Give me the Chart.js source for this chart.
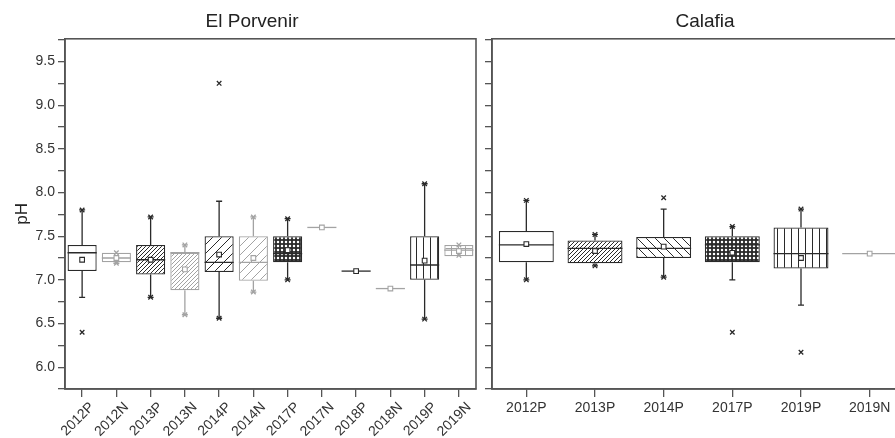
<!DOCTYPE html>
<html>
<head>
<meta charset="utf-8">
<script src="https://cdn.jsdelivr.net/npm/chart.js@4.4.1/dist/chart.umd.min.js"></script>
<style>
  html, body { margin: 0; padding: 0; background: #fff; overflow: hidden; }
  #wrap { position: relative; width: 895px; height: 438px; overflow: hidden; }
  #left { position: absolute; left: 0; top: 0; }
  #right { position: absolute; left: 480px; top: 0; }
</style>
</head>
<body>
<div id="wrap">
  <canvas id="left" width="504" height="438"></canvas>
  <canvas id="right" width="450" height="438"></canvas>
</div>
<script>
// El Porvenir
const porvCats   = ["2012P","2012N","2013P","2013N","2014P","2014N","2017P","2017N","2018P","2018N","2019P","2019N"];
const porvQ1     = [7.10, 7.20, 7.06, 6.88, 7.09, 6.99, 7.20, 7.60, 7.10, 6.90, 7.00, 7.27];
const porvQ3     = [7.40, 7.31, 7.40, 7.31, 7.50, 7.50, 7.50, 7.60, 7.10, 6.90, 7.50, 7.40];
const porvMedian = [7.31, 7.25, 7.23, 7.31, 7.20, 7.20, 7.30, 7.60, 7.10, 6.90, 7.17, 7.34];
const porvMean   = [7.23, 7.25, 7.23, 7.12, 7.29, 7.25, 7.34, 7.60, 7.10, 6.90, 7.22, 7.33];
const porvLow    = [6.80, 7.19, 6.80, 6.60, 6.56, 6.86, 7.00, 7.60, 7.10, 6.90, 6.55, 7.28];
const porvHigh   = [7.80, 7.31, 7.72, 7.40, 7.90, 7.72, 7.70, 7.60, 7.10, 6.90, 8.10, 7.40];
const porvMarks  = [[7.80, 6.40], [7.31, 7.19], [7.72, 6.80], [7.40, 6.60], [9.25, 6.56], [7.72, 6.86],
                    [7.70, 7.00], [], [], [], [8.10, 6.55], [7.40, 7.28]];

// Calafia
const calCats   = ["2012P","2013P","2014P","2017P","2019P","2019N"];
const calQ1     = [7.20, 7.19, 7.25, 7.20, 7.13, 7.30];
const calQ3     = [7.56, 7.45, 7.49, 7.50, 7.60, 7.30];
const calMedian = [7.40, 7.36, 7.36, 7.40, 7.30, 7.30];
const calMean   = [7.41, 7.33, 7.38, 7.31, 7.25, 7.30];
const calLow    = [7.00, 7.16, 7.03, 7.00, 6.71, 7.30];
const calHigh   = [7.91, 7.52, 7.81, 7.61, 7.81, 7.30];
const calMarks  = [[7.91, 7.00], [7.52, 7.16], [7.94, 7.03], [7.61, 6.40], [7.81, 6.17], []];

// shared y axis
const yMin = 5.75, yMax = 9.76, yStep = 0.25;

const DARK = "#2a2a2a", LIGHT = "#a3a3a3", AXIS = "#555";
Chart.defaults.font.family = "'Liberation Sans', Arial, sans-serif";
Chart.defaults.color = "#333";

function makePattern(kind, color) {
  if (kind === "none") return "#ffffff";
  const s = (kind === "dense" || kind === "dots") ? 4 : (kind === "vert" || kind === "grid") ? 7 : 9;
  const t = document.createElement("canvas");
  t.width = s; t.height = s;
  const g = t.getContext("2d");
  g.fillStyle = "#fff";
  g.fillRect(0, 0, s, s);
  g.strokeStyle = color;
  g.fillStyle = color;
  g.lineWidth = 1;
  if (kind === "dense" || kind === "sparse") {
    g.beginPath();
    g.moveTo(0, s); g.lineTo(s, 0);
    g.moveTo(-1, 1); g.lineTo(1, -1);
    g.moveTo(s - 1, s + 1); g.lineTo(s + 1, s - 1);
    g.stroke();
  } else if (kind === "back") {
    g.beginPath();
    g.moveTo(0, 0); g.lineTo(s, s);
    g.moveTo(s - 1, -1); g.lineTo(s + 1, 1);
    g.moveTo(-1, s - 1); g.lineTo(1, s + 1);
    g.stroke();
  } else if (kind === "dots") {
    g.fillRect(0, 0, s, s);
    g.fillStyle = "#fff";
    g.beginPath();
    g.arc(2, 2, 1.25, 0, Math.PI * 2);
    g.fill();
  } else if (kind === "vert") {
    g.fillRect(3, 0, 1, s);
  } else if (kind === "grid") {
    g.fillRect(3, 0, 1, s);
    g.fillRect(0, 3, s, 1);
  }
  return g.createPattern(t, "repeat");
}

function frame() {
  return {
    id: "frame",
    beforeDatasetsDraw(chart) {
      const a = chart.chartArea, ctx = chart.ctx;
      ctx.save();
      ctx.strokeStyle = AXIS;
      ctx.lineWidth = 1.6;
      ctx.strokeRect(a.left, a.top, a.right - a.left, a.bottom - a.top);
      ctx.restore();
    }
  };
}

// nudge the panel title sideways to sit where the original one does
function titleShift(dx) {
  return {
    id: "titleShift",
    afterLayout(chart) {
      const t = chart.titleBlock;
      if (t) { t.left += dx; t.right += dx; }
    }
  };
}

function boxChart(id, title, cats, q1, q3, med, mean, lo, hi, marks, look) {
  const colors = cats.map(c => c.endsWith("N") ? LIGHT : DARK);
  const fills = cats.map((c, i) => makePattern(look.patterns[i], colors[i]));
  const markPts = [];
  marks.forEach((list, i) => list.forEach(v => markPts.push({ x: cats[i], y: v })));

  const parts = {
    id: "boxParts",
    afterDatasetDraw(chart, args) {
      if (args.index !== 0) return;
      const ctx = chart.ctx, y = chart.scales.y;
      args.meta.data.forEach((bar, i) => {
        const half = bar.width / 2;
        const yTop = y.getPixelForValue(q3[i]), yBot = y.getPixelForValue(q1[i]);
        const ym = y.getPixelForValue(med[i]);
        ctx.save();
        ctx.strokeStyle = colors[i];
        ctx.lineWidth = 1.3;
        ctx.beginPath();
        ctx.moveTo(bar.x - half, ym);
        ctx.lineTo(bar.x + half, ym);
        if (hi[i] > q3[i]) {
          const yw = y.getPixelForValue(hi[i]);
          ctx.moveTo(bar.x, yTop); ctx.lineTo(bar.x, yw);
          ctx.moveTo(bar.x - 3, yw); ctx.lineTo(bar.x + 3, yw);
        }
        if (lo[i] < q1[i]) {
          const yw = y.getPixelForValue(lo[i]);
          ctx.moveTo(bar.x, yBot); ctx.lineTo(bar.x, yw);
          ctx.moveTo(bar.x - 3, yw); ctx.lineTo(bar.x + 3, yw);
        }
        ctx.stroke();
        ctx.restore();
      });
    }
  };

  return new Chart(document.getElementById(id), {
    type: "bar",
    data: {
      labels: cats,
      datasets: [
        {
          type: "bar",
          data: cats.map((c, i) => [q1[i], q3[i]]),
          backgroundColor: fills,
          borderColor: colors,
          borderWidth: 1.3,
          borderSkipped: false,
          barPercentage: look.barPct,
          categoryPercentage: 1,
          order: 3
        },
        {
          type: "line",
          data: markPts,
          showLine: false,
          pointStyle: "crossRot",
          pointRadius: 3.2,
          pointBorderWidth: 1.3,
          pointBorderColor: ctx => ctx.raw && ctx.raw.x.endsWith("N") ? LIGHT : DARK,
          order: 2
        },
        {
          type: "line",
          data: mean,
          showLine: false,
          pointStyle: "rect",
          pointRadius: 3.3,
          pointBackgroundColor: "#fff",
          pointBorderColor: colors,
          pointBorderWidth: 1.1,
          order: 1
        }
      ]
    },
    options: {
      responsive: false,
      animation: false,
      events: [],
      layout: { padding: { left: 0, right: look.padRight, top: 0, bottom: 0 } },
      plugins: {
        legend: { display: false },
        tooltip: { enabled: false },
        title: {
          display: true,
          text: title,
          color: "#222",
          font: { size: 19, weight: "normal" },
          padding: { top: 10, bottom: 6 }
        }
      },
      scales: {
        x: {
          offset: true,
          grid: { offset: false, drawOnChartArea: false, tickLength: 8, color: AXIS, lineWidth: 1.3 },
          border: { color: AXIS, width: 1.6 },
          ticks: {
            autoSkip: false,
            font: { size: 14 },
            color: "#333",
            padding: look.xPad,
            labelOffset: look.xShift,
            minRotation: look.rot,
            maxRotation: look.rot
          },
          afterFit: s => { s.height = 49; }
        },
        y: {
          min: yMin,
          max: yMax,
          grid: { drawOnChartArea: false, tickLength: 7, color: AXIS, lineWidth: 1.3 },
          border: { color: AXIS, width: 1.6 },
          ticks: {
            stepSize: yStep,
            includeBounds: false,
            autoSkip: false,
            padding: 3,
            font: { size: 14 },
            color: "#333",
            callback: v => look.yLabels && Math.abs(v * 2 - Math.round(v * 2)) < 1e-6 ? v.toFixed(1) : ""
          },
          title: {
            display: look.yLabels,
            text: "pH",
            color: "#222",
            font: { size: 17 },
            padding: { top: 12, bottom: 0 }
          },
          afterFit: s => { s.width = look.yWidth; }
        }
      }
    },
    plugins: [frame(), titleShift(look.titleDx), parts]
  });
}

boxChart("left", "El Porvenir", porvCats, porvQ1, porvQ3, porvMedian, porvMean, porvLow, porvHigh, porvMarks, {
  patterns: ["none","none","dense","dense","sparse","sparse","dots","none","none","none","vert","grid"],
  barPct: 0.85, padRight: 28, yWidth: 65, yLabels: true, rot: 45, xPad: 2, xShift: 10, titleDx: 14
});

boxChart("right", "Calafia", calCats, calQ1, calQ3, calMedian, calMean, calLow, calHigh, calMarks, {
  patterns: ["none","dense","back","dots","vert","none"],
  barPct: 0.8, padRight: 26, yWidth: 12, yLabels: false, rot: 0, xPad: 3, xShift: 0, titleDx: 13
});
</script>
</body>
</html>
